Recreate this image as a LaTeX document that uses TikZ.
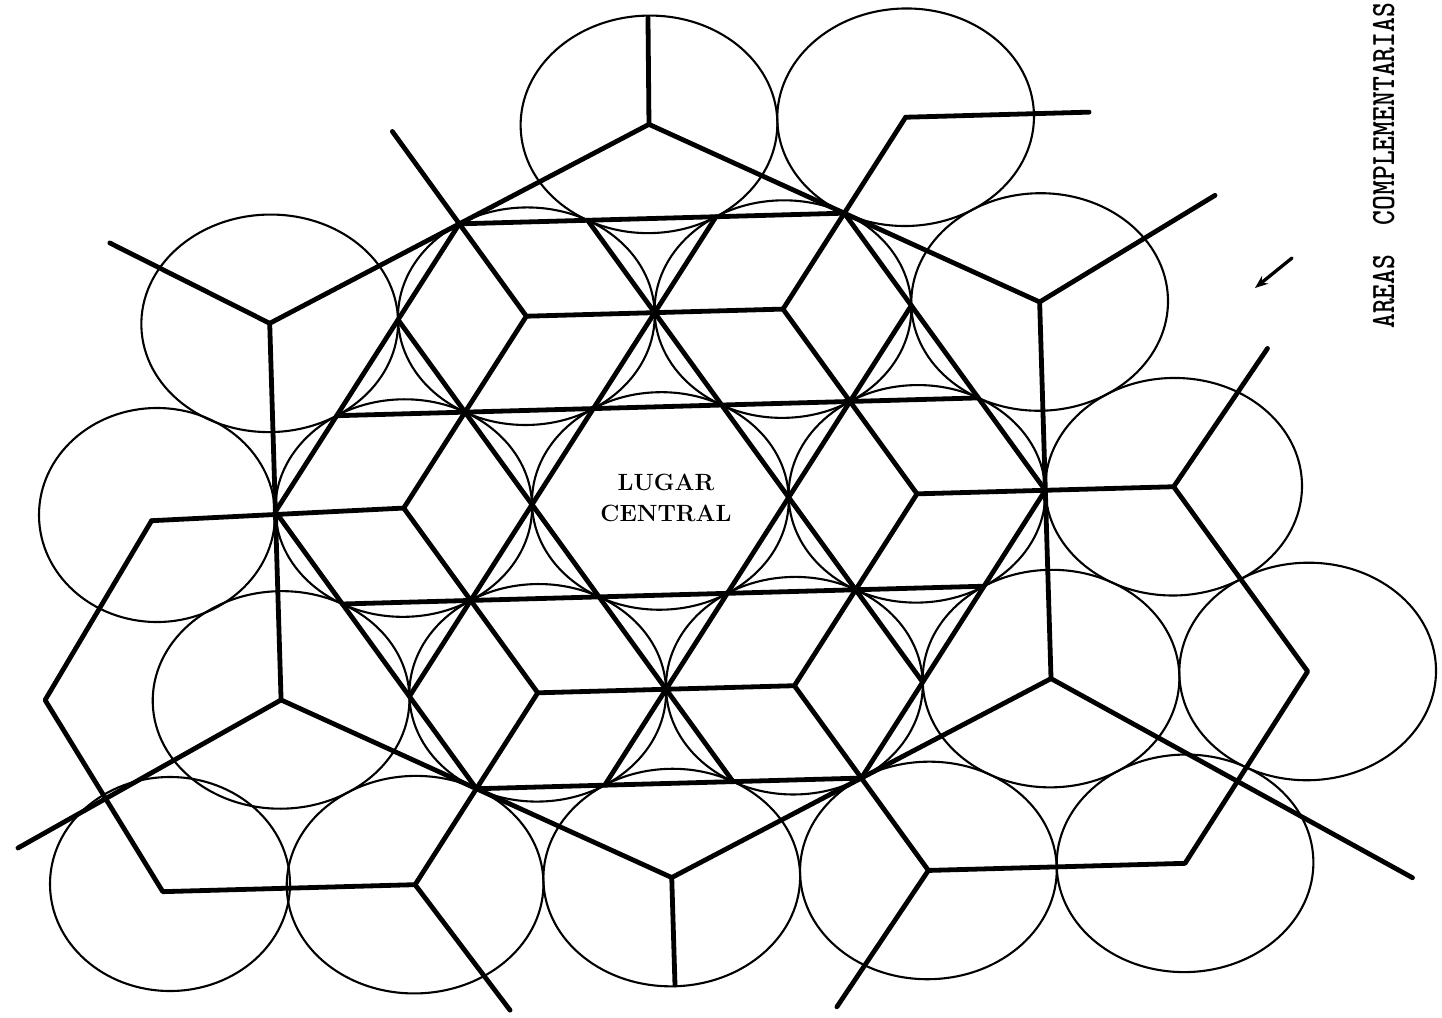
\documentclass[tikz,border=0pt]{standalone}
\usepackage{fontspec}
\usepackage{graphicx}
\usetikzlibrary{arrows.meta}
\begin{document}
\begin{tikzpicture}[x=1pt,y=1pt,
  heavyline/.style={line width=4.8pt, line cap=round, line join=round},
  circline/.style={line width=2.1pt}]
\useasboundingbox (0,0) rectangle (1442,-1017);
\fill[white] (0,0) rectangle (1442,-1017);
\begin{scope}[cm={222.26,6.16,-5.69,188.3,(660.36,-500.95)}]
  % central place and first ring of centres
  \coordinate (O) at (0,0);
  \coordinate (R0) at (1.1547,0);
  \coordinate (R60) at (0.57735,1);
  \coordinate (R120) at (-0.57735,1);
  \coordinate (R180) at (-1.1547,0);
  \coordinate (R240) at (-0.57735,-1);
  \coordinate (R300) at (0.57735,-1);
  % inner hexagon of lattice points
  \coordinate (PA) at (-0.86603,1.5);
  \coordinate (PB) at (0.86603,1.5);
  \coordinate (PG) at (1.73205,0);
  \coordinate (PL) at (0.86603,-1.5);
  \coordinate (PK) at (-0.86603,-1.5);
  \coordinate (PF) at (-1.73205,0);
  % outer centres
  \coordinate (Q0) at (2.3094,0);
  \coordinate (Q60) at (1.1547,2);
  \coordinate (Q120) at (-1.1547,2);
  \coordinate (Q180) at (-2.29,-0.03);
  \coordinate (Q240) at (-1.1547,-2);
  \coordinate (Q300) at (1.1547,-2);
  \coordinate (V30) at (1.73205,1);
  \coordinate (V90) at (0,2);
  \coordinate (V150) at (-1.73205,1);
  \coordinate (V210) at (-1.73205,-1);
  \coordinate (V270) at (0,-2);
  \coordinate (V330) at (1.73205,-1);
  \coordinate (W1) at (-2.793,-0.966);
  \coordinate (W2) at (-2.29,-2);
  \coordinate (W3) at (2.88675,-1);
  \coordinate (W4) at (2.3094,-2);
  % star lines
  \coordinate (S1a) at (-1.44338,0.5);  \coordinate (S1b) at (1.44338,0.5);
  \coordinate (S2a) at (-1.44338,-0.5); \coordinate (S2b) at (1.44338,-0.5);
  \coordinate (S3a) at (0.28868,1.5);   \coordinate (S3b) at (-1.1547,-1);
  \coordinate (S4a) at (1.1547,1);      \coordinate (S4b) at (-0.28868,-1.5);
  \coordinate (S5a) at (-0.28868,1.5);  \coordinate (S5b) at (1.1547,-1);
  \coordinate (S6a) at (-1.1547,1);     \coordinate (S6b) at (0.28868,-1.5);
  % free ends
  \coordinate (E90) at (0.01,2.565);
  \coordinate (E150) at (-2.44,1.45);
  \coordinate (E30) at (2.535,1.54);
  \coordinate (E330) at (3.33,-2.11);
  \coordinate (E270) at (0,-2.57);
  \coordinate (E210) at (-2.935,-1.747);
  \coordinate (T60) at (1.98,2.0);
  \coordinate (T0) at (2.75,0.72);
  \coordinate (T300) at (0.725,-2.71);
  \coordinate (T240) at (-0.745,-2.68);

  % circles (market areas)
  \foreach \cx/\cy in {0/0, 1.1547/0, 0.57735/1, -0.57735/1, -1.1547/0, -0.57735/-1, 0.57735/-1,
      0/2, -1.73205/1, -1.73205/-1, 0/-2, 1.73205/-1, 1.73205/1,
      2.3094/0, 1.1547/2, -1.1547/-2, 1.1547/-2,
      2.88675/-1, 2.3094/-2}
    \draw[circline] (\cx,\cy) circle[radius=0.57735];
\end{scope}
% the two left-hand circles, drawn a little smaller as in the original
\draw[circline] (157,-515) ellipse[x radius=118, y radius=107];
\draw[circline] (170,-884) ellipse[x radius=120, y radius=107];

% heavy network
\draw[heavyline] (PA)--(PB)--(PG)--(PL)--(PK)--(PF)--cycle;
\draw[heavyline] (R0)--(R60)--(R120)--(R180)--(R240)--(R300)--cycle;
\draw[heavyline] (S1a)--(S1b) (S2a)--(S2b) (S3a)--(S3b)
                 (S4a)--(S4b) (S5a)--(S5b) (S6a)--(S6b);
\draw[heavyline] (R0)--(Q0) (R60)--(Q60) (R120)--(Q120)
                 (R180)--(Q180) (R240)--(Q240) (R300)--(Q300);
\draw[heavyline] (V90)--(V150)--(V210)--(V270)--(V330)--(V30)--cycle;
\draw[heavyline] (V90)--(E90) (V150)--(E150) (V30)--(E30)
                 (V330)--(E330) (V270)--(E270) (V210)--(E210);
\draw[heavyline] (Q60)--(T60);
\draw[heavyline] (T0)--(Q0)--(W3)--(W4)--(Q300)--(T300);
\draw[heavyline] (Q180)--(W1)--(W2)--(Q240)--(T240);

\node[font={\bfseries\fontsize{23.5}{31}\selectfont}, align=center, inner sep=0pt] (lugar) at (666,-498) {LUGAR\\CENTRAL};
\node[rotate=90, anchor=base west, font={\ttfamily\bfseries\fontsize{34}{34}\selectfont}, inner sep=0pt] (areas) at (1394,-329)
  {\scalebox{0.83}[1]{AREAS\ \ COMPLEMENTARIAS}};
\coordinate (arA) at (1292,-258);
\coordinate (arB) at (1255,-288);
\draw[line width=3.3pt, line cap=round, -{Stealth[length=13pt,width=10pt]}] (arA) -- (arB);
\end{tikzpicture}
\end{document}
